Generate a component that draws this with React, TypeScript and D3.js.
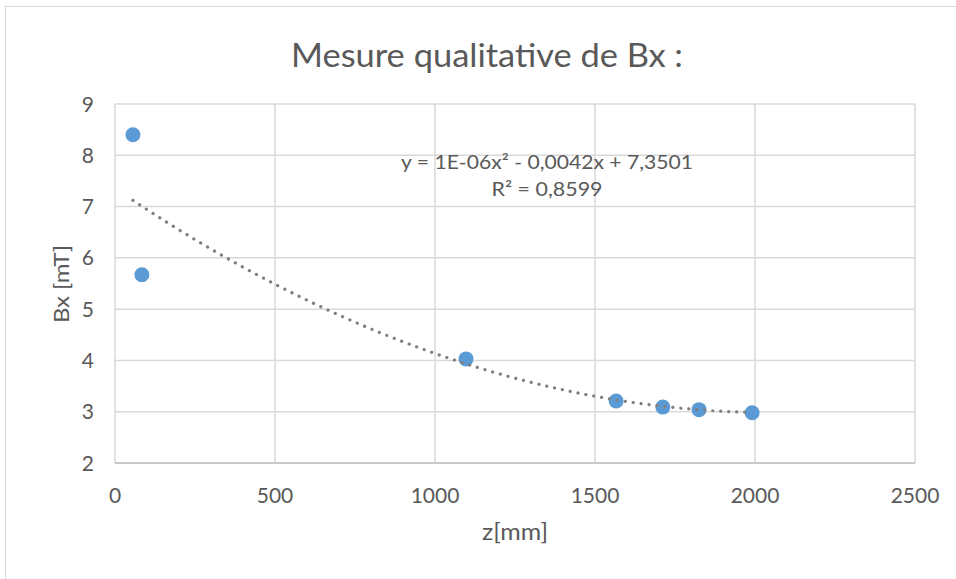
import React from "react";
import * as d3 from "d3";

const zValues = [56, 84, 1097, 1566, 1712, 1825, 1991];
const bxValues = [8.40, 5.67, 4.03, 3.21, 3.09, 3.04, 2.98];
const xTicks = [0, 500, 1000, 1500, 2000, 2500];
const yTicks = [2, 3, 4, 5, 6, 7, 8, 9];
const title = "Mesure qualitative de Bx :";
const xLabel = "z[mm]";
const yLabel = "Bx [mT]";
const eqLine1 = "y = 1E-06x² - 0,0042x + 7,3501";
const eqLine2 = "R² = 0,8599";

function fitQuadratic(xs: number[], ys: number[]) {
  const s = [0, 0, 0, 0, 0];
  const t = [0, 0, 0];
  xs.forEach((x, i) => {
    const y = ys[i];
    for (let k = 0; k < 5; k++) s[k] += Math.pow(x, k);
    for (let k = 0; k < 3; k++) t[k] += Math.pow(x, k) * y;
  });
  const M = [
    [s[4], s[3], s[2], t[2]],
    [s[3], s[2], s[1], t[1]],
    [s[2], s[1], s[0], t[0]],
  ];
  for (let i = 0; i < 3; i++) {
    let p = i;
    for (let r = i + 1; r < 3; r++) if (Math.abs(M[r][i]) > Math.abs(M[p][i])) p = r;
    [M[i], M[p]] = [M[p], M[i]];
    for (let r = 0; r < 3; r++) {
      if (r === i) continue;
      const f = M[r][i] / M[i][i];
      for (let c = i; c < 4; c++) M[r][c] -= f * M[i][c];
    }
  }
  return [M[0][3] / M[0][0], M[1][3] / M[1][1], M[2][3] / M[2][2]];
}

export default function App() {
  const W = 956, H = 579;
  const left = 115, right = 915, top = 104, bottom = 463;
  const x = d3.scaleLinear().domain([0, 2500]).range([left, right]);
  const y = d3.scaleLinear().domain([2, 9]).range([bottom, top]);
  const [a, b, c] = fitQuadratic(zValues, bxValues);
  const xmin = d3.min(zValues) as number;
  const xmax = d3.max(zValues) as number;
  const trend = d3.range(0, 101).map((i) => {
    const xv = xmin + ((xmax - xmin) * i) / 100;
    return [xv, a * xv * xv + b * xv + c] as [number, number];
  });
  const line = d3.line<[number, number]>().x((d) => x(d[0])).y((d) => y(d[1]));
  const font = "Lato, 'Open Sans', sans-serif";
  const txt = "#595959";
  return (
    <svg width={W} height={H} style={{ position: "absolute", left: 0, top: 0 }}>
      <rect x={0} y={0} width={W} height={H} fill="#fff" />
      <rect x={5.5} y={6.5} width={W + 10} height={H + 10} fill="#fff" stroke="#d9d9d9" />
      <text x={487} y={67} textAnchor="middle" fontFamily={font} fontSize={32} fill={txt} textLength={392} lengthAdjust="spacingAndGlyphs">{title}</text>
      {yTicks.map((t) => (
        <line key={"gy" + t} x1={left} x2={right} y1={y(t)} y2={y(t)} stroke="#d9d9d9" strokeWidth={1.5} />
      ))}
      {xTicks.map((t) => (
        <line key={"gx" + t} x1={x(t)} x2={x(t)} y1={top} y2={bottom} stroke="#d9d9d9" strokeWidth={1.5} />
      ))}
      <line x1={left} x2={right} y1={bottom} y2={bottom} stroke="#bfbfbf" strokeWidth={1.5} />
      {yTicks.map((t) => (
        <text key={"ty" + t} x={94} y={y(t)} dy="0.36em" textAnchor="end" fontFamily={font} fontSize={21} fill={txt}>{t}</text>
      ))}
      {xTicks.map((t) => (
        <text key={"tx" + t} x={x(t)} y={503} textAnchor="middle" fontFamily={font} fontSize={21} fill={txt}>{t}</text>
      ))}
      <text x={515} y={540} textAnchor="middle" fontFamily={font} fontSize={23} fill={txt} textLength={66} lengthAdjust="spacingAndGlyphs">{xLabel}</text>
      <text transform="translate(69,284) rotate(-90)" textAnchor="middle" fontFamily={font} fontSize={22} fill={txt} textLength={78} lengthAdjust="spacingAndGlyphs">{yLabel}</text>
      {zValues.map((z, i) => (
        <circle key={"p" + i} cx={x(z)} cy={y(bxValues[i])} r={7.5} fill="#5b9bd5" />
      ))}
      <path d={line(trend) || ""} fill="none" stroke="#7f7f7f" strokeWidth={3.2} strokeDasharray="0.1 7.9" strokeLinecap="round" />
      <text x={547} y={169} textAnchor="middle" fontFamily={font} fontSize={19} fill={txt} textLength={292} lengthAdjust="spacingAndGlyphs">{eqLine1}</text>
      <text x={547} y={196} textAnchor="middle" fontFamily={font} fontSize={19} fill={txt} textLength={111} lengthAdjust="spacingAndGlyphs">{eqLine2}</text>
    </svg>
  );
}
